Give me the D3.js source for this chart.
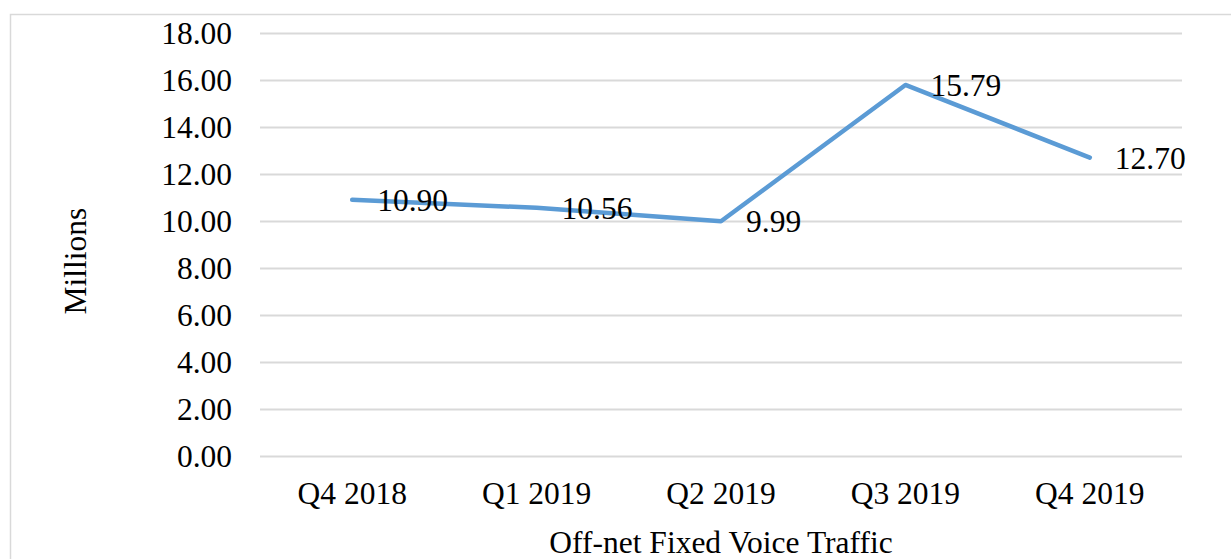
<!DOCTYPE html>
<html>
<head>
<meta charset="utf-8">
<script src="https://cdn.jsdelivr.net/npm/d3@7"></script>
<style>
  html, body { margin: 0; padding: 0; background: #fff; }
  svg { display: block; }
  text { font-family: "Liberation Serif", "DejaVu Serif", serif; fill: #000; }
</style>
</head>
<body>
<div id="chart"></div>
<script>
const categories = ['Q4 2018', 'Q1 2019', 'Q2 2019', 'Q3 2019', 'Q4 2019'];
const values = [10.90, 10.56, 9.99, 15.79, 12.70];
const yTicks = [0, 2, 4, 6, 8, 10, 12, 14, 16, 18];

const w = 1231;
const h = 559;
const plotLeft = 260, plotRight = 1182, plotTop = 33, plotBottom = 456;
const fontSize = 31.5;

const svg = d3.select('#chart').append('svg')
  .attr('width', w)
  .attr('height', h);

// chart frame
svg.append('rect')
  .attr('x', 10.5)
  .attr('y', 14.5)
  .attr('width', w + 20)
  .attr('height', h + 20)
  .attr('fill', 'none')
  .attr('stroke', '#d9d9d9')
  .attr('stroke-width', 1.5);

const x = d3.scaleBand()
  .domain(categories)
  .range([plotLeft, plotRight]);

const y = d3.scaleLinear()
  .domain([0, 18])
  .range([plotBottom, plotTop]);

// gridlines + y labels
const yAxis = svg.append('g')
  .attr('transform', `translate(${plotLeft}, 0)`)
  .call(d3.axisLeft(y)
    .tickValues(yTicks)
    .tickSize(-(plotRight - plotLeft))
    .tickPadding(28)
    .tickFormat(d3.format('.2f')));
yAxis.select('.domain').remove();
yAxis.selectAll('.tick line')
  .attr('stroke', '#d9d9d9')
  .attr('stroke-width', 2);
yAxis.selectAll('.tick text')
  .attr('font-size', fontSize)
  .attr('font-family', '"Liberation Serif", serif')
  .attr('fill', '#000')
  .attr('dy', '0.33em');

// x labels
const xAxis = svg.append('g')
  .attr('transform', `translate(0, ${plotBottom})`)
  .call(d3.axisBottom(x).tickSize(0).tickPadding(26));
xAxis.select('.domain').remove();
xAxis.selectAll('.tick text')
  .attr('font-size', fontSize)
  .attr('font-family', '"Liberation Serif", serif')
  .attr('fill', '#000');

const cx = (d) => x(d) + x.bandwidth() / 2;

const line = d3.line()
  .x((d, i) => cx(categories[i]))
  .y((d) => y(d));

svg.append('path')
  .attr('d', line(values))
  .attr('fill', 'none')
  .attr('stroke', '#5b9bd5')
  .attr('stroke-width', 4.5)
  .attr('stroke-linejoin', 'round')
  .attr('stroke-linecap', 'round');

// data labels
svg.append('g')
  .selectAll('text')
  .data(values)
  .join('text')
  .attr('x', (d, i) => cx(categories[i]) + 25)
  .attr('y', (d) => y(d))
  .attr('dy', '0.35em')
  .attr('font-size', fontSize)
  .text((d) => d3.format('.2f')(d));

// axis titles
svg.append('text')
  .attr('transform', `translate(86, 261) rotate(-90)`)
  .attr('text-anchor', 'middle')
  .attr('font-size', fontSize)
  .text('Millions');

svg.append('text')
  .attr('x', (plotLeft + plotRight) / 2)
  .attr('y', 553)
  .attr('text-anchor', 'middle')
  .attr('font-size', fontSize)
  .text('Off-net Fixed Voice Traffic');
</script>
</body>
</html>
